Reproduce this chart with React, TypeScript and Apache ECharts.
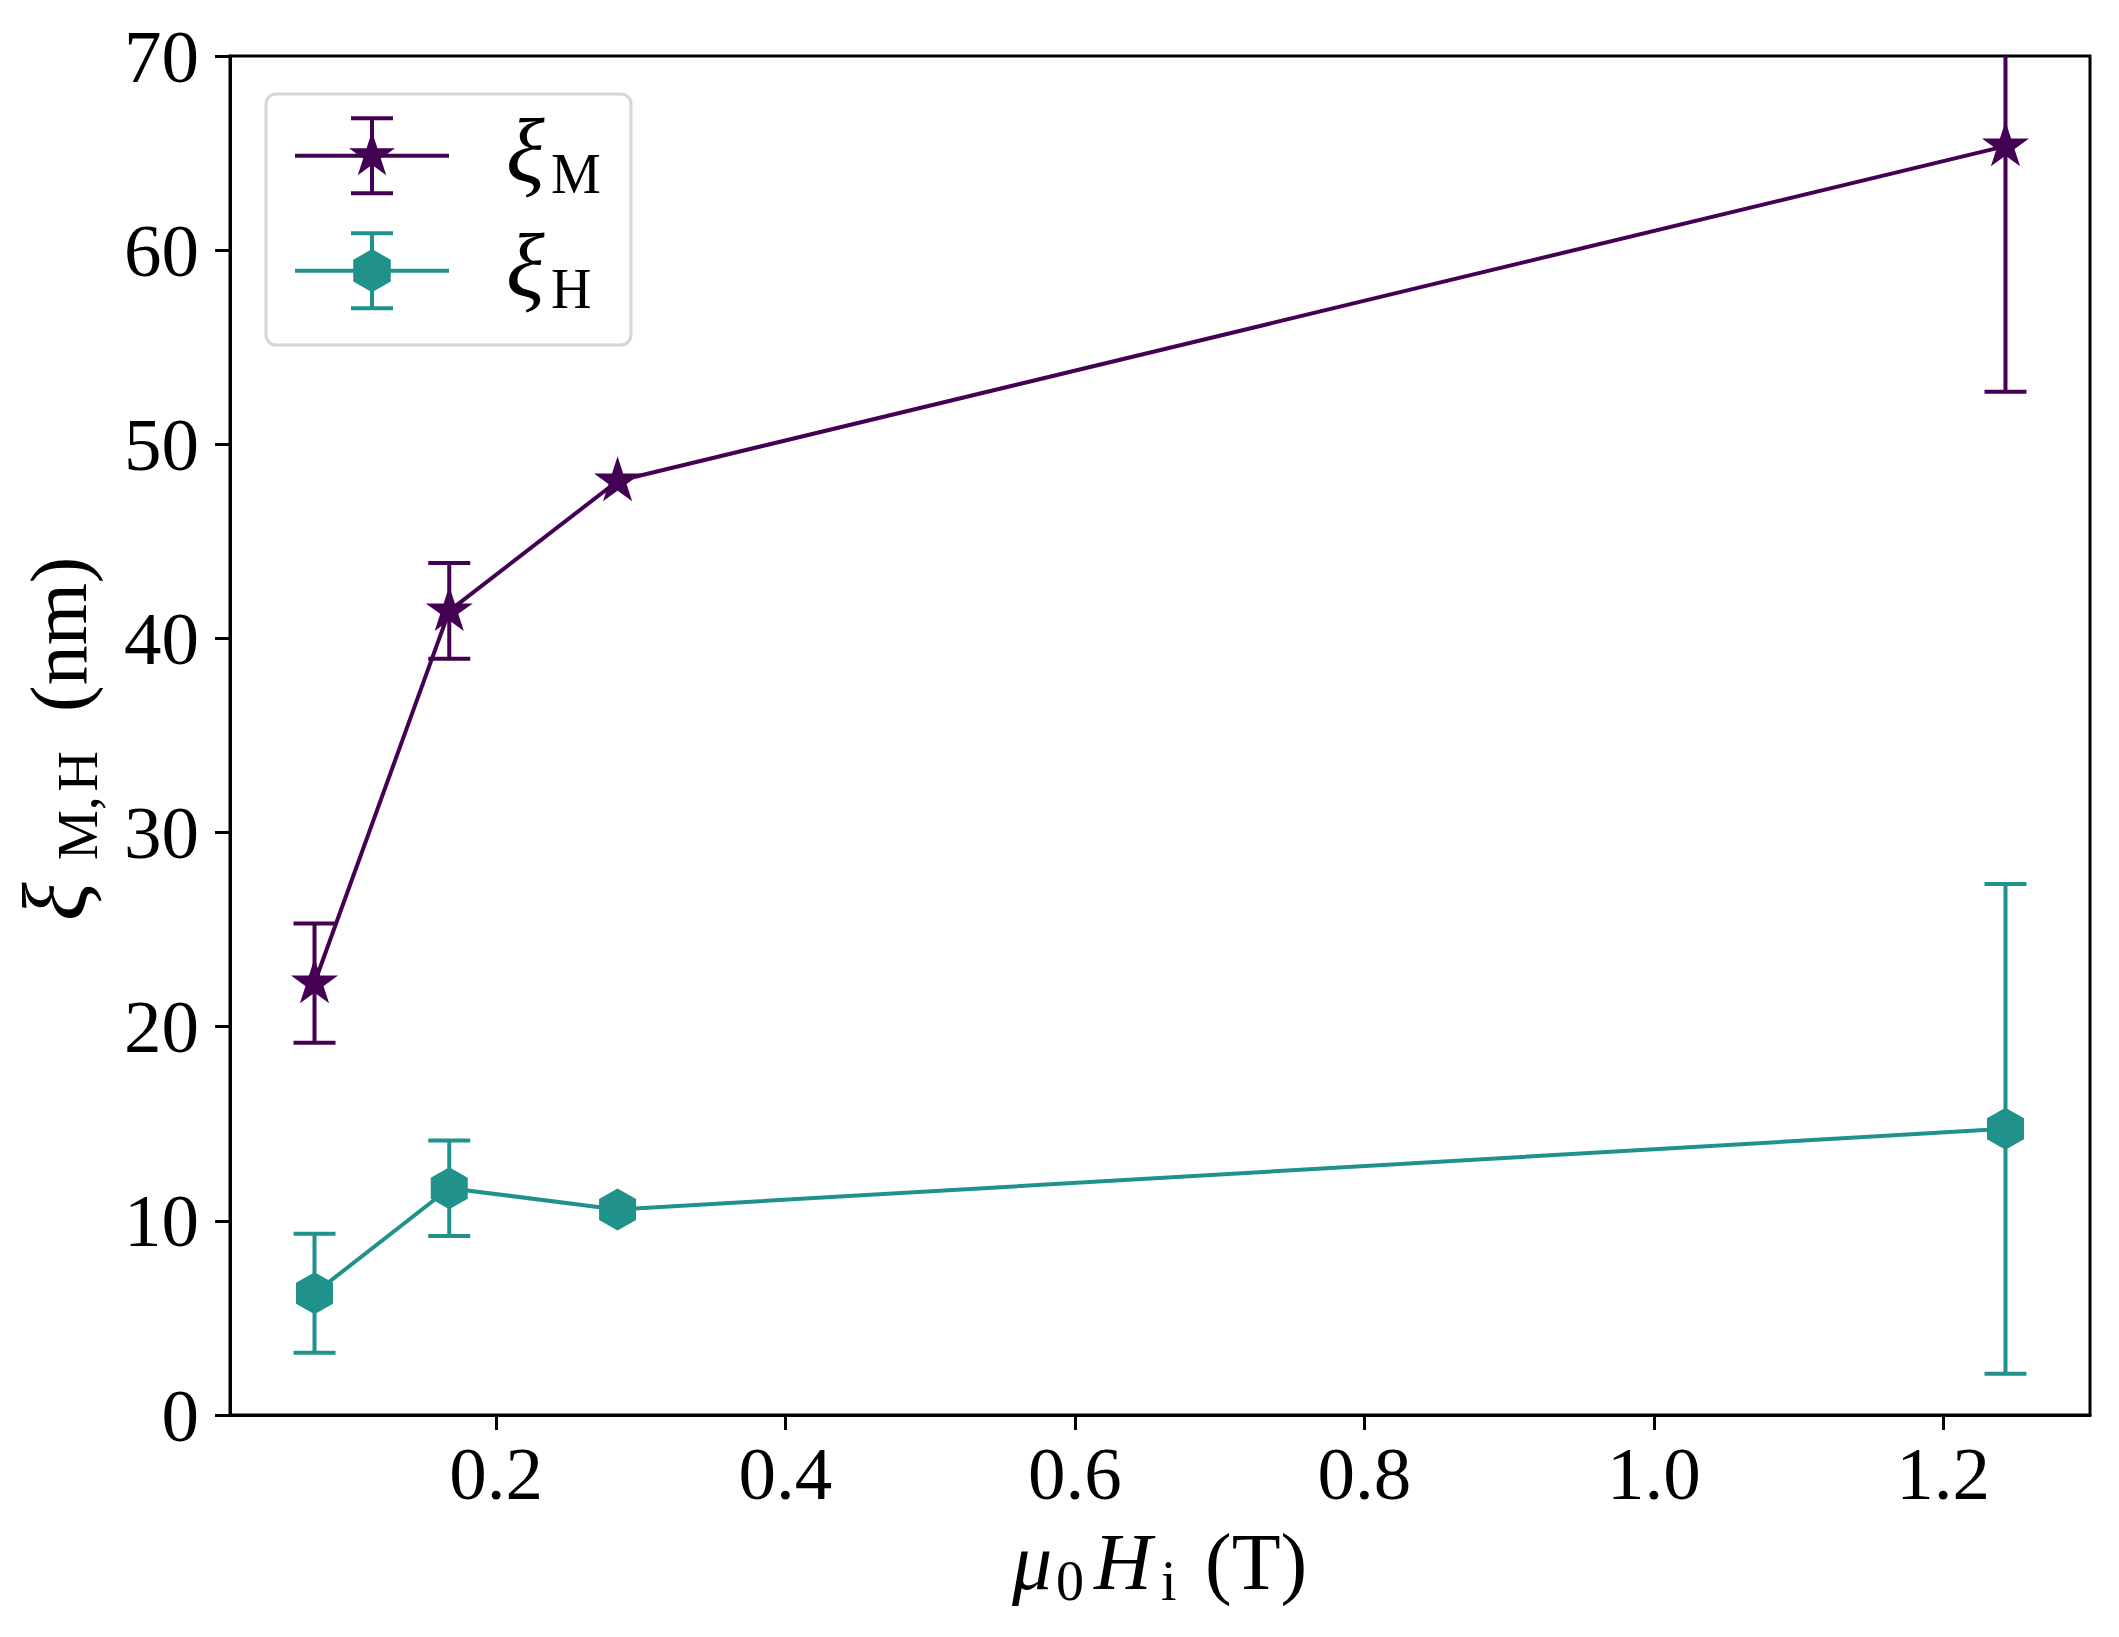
import React, { useEffect, useRef } from 'react';
import * as echarts from 'echarts';

// ---- data ----
const fieldT = [0.0746, 0.1677, 0.284, 1.243];
const xiM = [22.25, 41.42, 48.11, 65.36];
const xiMErr: (number | null)[] = [3.07, 2.47, null, 12.65];
const xiH = [6.27, 11.68, 10.59, 14.74];
const xiHErr: (number | null)[] = [3.07, 2.46, null, 12.61];
const xTicks = [0.2, 0.4, 0.6, 0.8, 1.0, 1.2];
const xRange = [0.0162, 1.3014];
const yRange = [0, 70];
const yStep = 10;

const COLOR_M = '#440154';
const COLOR_H = '#21918c';
const FONT = 'Liberation Serif';
const CENTRAL = 0.3375; // central baseline offset (em) for Liberation Serif

function starPts(R: number): number[][] {
  const pts: number[][] = [];
  for (let k = 0; k < 10; k++) {
    const a = -Math.PI / 2 + (k * Math.PI) / 5;
    const r = k % 2 ? R * 0.381966 : R;
    pts.push([r * Math.cos(a), r * Math.sin(a)]);
  }
  return pts;
}
function hexPts(R: number): number[][] {
  const pts: number[][] = [];
  for (let k = 0; k < 6; k++) {
    const a = -Math.PI / 2 + (k * Math.PI) / 3;
    pts.push([R * Math.cos(a), R * Math.sin(a)]);
  }
  return pts;
}
function toPath(pts: number[][]): string {
  return 'path://' + pts.map((p, i) => (i ? 'L' : 'M') + p[0].toFixed(4) + ' ' + p[1].toFixed(4)).join(' ') + ' Z';
}
const STAR = toPath(starPts(1));
const HEX = toPath(hexPts(1));

function txt(x: number, baseline: number, text: string, size: number, italic = false) {
  return {
    type: 'text',
    x,
    y: baseline - CENTRAL * size,
    z: 110,
    style: {
      text,
      fontSize: size,
      fontFamily: FONT,
      fontStyle: italic ? 'italic' : 'normal',
      fill: '#000',
      align: 'left',
      textAlign: 'left',
      verticalAlign: 'middle',
      textVerticalAlign: 'middle',
    },
  };
}

function errData(xs: number[], ys: number[], es: (number | null)[]) {
  const out: number[][] = [];
  xs.forEach((x, i) => {
    const e = es[i];
    if (e != null) out.push([x, ys[i] - e, ys[i] + e]);
  });
  return out;
}

function errSeries(data: number[][], color: string) {
  return {
    type: 'custom',
    clip: true,
    z: 1,
    silent: true,
    encode: { x: 0, y: [1, 2] },
    data,
    renderItem: (params: any, api: any) => {
      const x = api.value(0);
      const a = api.coord([x, api.value(1)]);
      const b = api.coord([x, api.value(2)]);
      const hw = 21;
      const style = { stroke: color, lineWidth: 4, fill: null };
      return {
        type: 'group',
        children: [
          { type: 'line', shape: { x1: a[0], y1: a[1], x2: b[0], y2: b[1] }, style },
          { type: 'line', shape: { x1: a[0] - hw, y1: a[1], x2: a[0] + hw, y2: a[1] }, style },
          { type: 'line', shape: { x1: b[0] - hw, y1: b[1], x2: b[0] + hw, y2: b[1] }, style },
        ],
      };
    },
  };
}

function legendRow(cy: number, color: string, marker: 'star' | 'hex', sub: string) {
  const cx = 372;
  const style = { stroke: color, lineWidth: 4 };
  const pts = marker === 'star' ? starPts(21).map(([x, y]) => [cx + x, cy + y]) : hexPts(20.5).map(([x, y]) => [cx + x, cy + y]);
  return [
    { type: 'line', z: 105, shape: { x1: 295, y1: cy, x2: 449, y2: cy }, style },
    { type: 'line', z: 105, shape: { x1: cx, y1: cy - 37.5, x2: cx, y2: cy + 37.5 }, style },
    { type: 'line', z: 105, shape: { x1: cx - 21, y1: cy - 37.5, x2: cx + 21, y2: cy - 37.5 }, style },
    { type: 'line', z: 105, shape: { x1: cx - 21, y1: cy + 37.5, x2: cx + 21, y2: cy + 37.5 }, style },
    { type: 'polygon', z: 106, shape: { points: pts }, style: { fill: color, stroke: color, lineWidth: 2 } },
    txt(506, cy + 26.5, 'ξ', 90, true),
    txt(551, cy + 37.5, sub, 56),
  ];
}

export default function App() {
  const ref = useRef<HTMLDivElement>(null);
  useEffect(() => {
    if (!ref.current) return;
    const chart = echarts.init(ref.current, undefined, { renderer: 'svg' });
    const axisLabelBase = { fontSize: 75, fontFamily: FONT, color: '#000' };
    const option: any = {
      animation: false,
      backgroundColor: '#ffffff',
      grid: {
        left: 230, right: 29, top: 56, bottom: 222,
        show: true, borderColor: '#000', borderWidth: 3, backgroundColor: 'transparent',
        containLabel: false, outerBoundsMode: 'none',
      },
      xAxis: {
        type: 'value',
        min: xRange[0],
        max: xRange[1],
        splitLine: { show: false },
        axisLine: { show: true, onZero: false, lineStyle: { color: '#000', width: 3 } },
        axisTick: { show: true, inside: false, length: 15, lineStyle: { color: '#000', width: 3 }, customValues: xTicks },
        axisLabel: { ...axisLabelBase, customValues: xTicks, formatter: (v: number) => v.toFixed(1), margin: 58, verticalAlign: 'middle' },
      },
      yAxis: {
        type: 'value',
        min: yRange[0],
        max: yRange[1],
        interval: yStep,
        splitLine: { show: false },
        axisLine: { show: true, onZero: false, lineStyle: { color: '#000', width: 3 } },
        axisTick: { show: true, inside: false, length: 15, lineStyle: { color: '#000', width: 3 } },
        axisLabel: { ...axisLabelBase, margin: 31, formatter: (v: number) => String(v) },
      },
      series: [
        errSeries(errData(fieldT, xiM, xiMErr), COLOR_M),
        errSeries(errData(fieldT, xiH, xiHErr), COLOR_H),
        {
          type: 'line',
          name: 'ξM',
          z: 3,
          data: fieldT.map((x, i) => [x, xiM[i]]),
          symbol: STAR,
          symbolSize: [41, 39],
          symbolOffset: [0, -1.9],
          showSymbol: true,
          lineStyle: { color: COLOR_M, width: 4 },
          itemStyle: { color: COLOR_M, borderColor: COLOR_M, borderWidth: 2 },
          clip: true,
          silent: true,
        },
        {
          type: 'line',
          name: 'ξH',
          z: 3,
          data: fieldT.map((x, i) => [x, xiH[i]]),
          symbol: HEX,
          symbolSize: [37, 42],
          showSymbol: true,
          lineStyle: { color: COLOR_H, width: 4 },
          itemStyle: { color: COLOR_H, borderWidth: 0 },
          clip: true,
          silent: true,
        },
      ],
      graphic: [
        {
          type: 'rect', z: 100,
          shape: { x: 266, y: 94, width: 365, height: 251, r: 10 },
          style: { fill: 'rgba(255,255,255,0.8)', stroke: '#d6d6d6', lineWidth: 3 },
        },
        ...legendRow(155.7, COLOR_M, 'star', 'M'),
        ...legendRow(270.7, COLOR_H, 'hex', 'H'),
        // x axis title: μ0Hi (T)
        txt(1012, 1589, 'μ', 80, true),
        txt(1056, 1600, '0', 56),
        txt(1094, 1589, 'H', 80, true),
        txt(1161, 1600, 'i', 56),
        txt(1205, 1589, '(T)', 80),
        // y axis title: ξM,H (nm)
        {
          type: 'group',
          x: 86,
          y: 919,
          rotation: Math.PI / 2,
          children: [
            txt(-2, 0, 'ξ', 90, true),
            txt(59, 11, 'M,\u200AH', 56),
            txt(207, 0, '(nm)', 80),
          ],
        },
      ],
    };
    chart.setOption(option);
    return () => chart.dispose();
  }, []);
  return <div ref={ref} style={{ position: 'absolute', left: 0, top: 0, width: 2119, height: 1637 }} />;
}
